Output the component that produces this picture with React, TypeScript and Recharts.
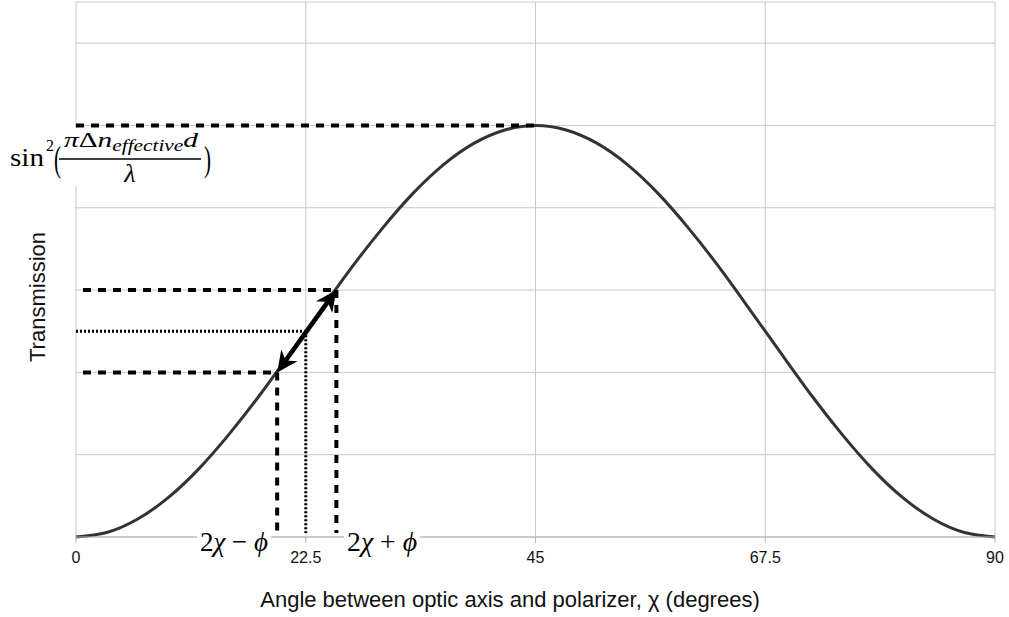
import React from 'react';
import { LineChart, Line, XAxis, YAxis, CartesianGrid, ReferenceLine } from 'recharts';

// curve, every 3 degrees
const angles = [0, 3, 6, 9, 12, 15, 18, 21, 24, 27, 30, 33, 36, 39, 42, 45, 48, 51, 54, 57, 60, 63, 66, 69, 72, 75, 78, 81, 84, 87, 90];
const transmission = [
  0, 0.011, 0.043, 0.095, 0.165, 0.25, 0.345, 0.448, 0.552, 0.655, 0.75, 0.835, 0.905, 0.957, 0.989, 1.0,
  0.989, 0.957, 0.905, 0.835, 0.75, 0.655, 0.552, 0.448, 0.345, 0.25, 0.165, 0.095, 0.043, 0.011, 0,
];

const xTicks = [0, 22.5, 45, 67.5, 90];
const yTicks = [0, 0.2, 0.4, 0.6, 0.8, 1.0, 1.2, 1.3];

// annotation points
const peak = { angle: 45, value: 1.0 };
const upper = { angle: 25.5, value: 0.6 };
const lower = { angle: 19.7, value: 0.4 };
const middle = { angle: 22.5, value: 0.5 };
const dropEnd = 0.01;

const data = angles.map((a, i) => ({ angle: a, t: transmission[i] }));

const SERIF = '"Liberation Serif", "Times New Roman", serif';
const SANS = '"Liberation Sans", Arial, sans-serif';

const DoubleArrow = (props: any) => {
  const { x1, y1, x2, y2 } = props;
  const dx = x2 - x1;
  const dy = y2 - y1;
  const len = Math.sqrt(dx * dx + dy * dy);
  const ux = dx / len;
  const uy = dy / len;
  const hl = 21;
  const hw = 10;
  const head = (tx: number, ty: number, dirx: number, diry: number) => {
    const bx = tx - dirx * hl;
    const by = ty - diry * hl;
    return `${tx},${ty} ${bx - diry * hw},${by + dirx * hw} ${tx - dirx * hl * 0.7},${ty - diry * hl * 0.7} ${bx + diry * hw},${by - dirx * hw}`;
  };
  return (
    <g>
      <line x1={x1 + ux * 10} y1={y1 + uy * 10} x2={x2 - ux * 10} y2={y2 - uy * 10} stroke="#000" strokeWidth={4.5} />
      <polygon points={head(x2, y2, ux, uy)} fill="#000" />
      <polygon points={head(x1, y1, -ux, -uy)} fill="#000" />
    </g>
  );
};

const AngleTick = (props: any) => {
  const { x, y, payload } = props;
  return (
    <text x={x} y={y} dy={18} textAnchor="middle" fontSize={16} fontFamily={SANS} fill="#111">
      {payload.value}
    </text>
  );
};

const dashed = { stroke: '#000', strokeWidth: 4, strokeDasharray: '8 7' };
const dotted = { stroke: '#000', strokeWidth: 3, strokeDasharray: '2 2' };

export default function App() {
  return (
    <div style={{ position: 'absolute', left: 0, top: 0, width: 1009, height: 617, background: '#fff' }}>
      <LineChart width={1009} height={617} data={data} margin={{ top: 2, right: 14, bottom: 50, left: 76 }}>
        <CartesianGrid stroke="#c8c8c8" strokeWidth={1} />
        <XAxis
          type="number"
          dataKey="angle"
          domain={[0, 90]}
          ticks={xTicks}
          height={30}
          tickMargin={2}
          stroke="#b5b5b5"
          tick={AngleTick}
        />
        <YAxis type="number" domain={[0, 1.3]} ticks={yTicks} hide />
        <Line
          type="natural"
          dataKey="t"
          stroke="#333"
          strokeWidth={3}
          dot={false}
          isAnimationActive={false}
        />
        <ReferenceLine segment={[{ x: 0, y: peak.value }, { x: peak.angle, y: peak.value }]} {...dashed} />
        <ReferenceLine segment={[{ x: 0, y: upper.value }, { x: upper.angle, y: upper.value }]} {...dashed} strokeDashoffset={8} />
        <ReferenceLine segment={[{ x: 0, y: lower.value }, { x: lower.angle, y: lower.value }]} {...dashed} strokeDashoffset={8} />
        <ReferenceLine segment={[{ x: 0, y: middle.value }, { x: middle.angle, y: middle.value }]} {...dotted} />
        <ReferenceLine segment={[{ x: upper.angle, y: upper.value }, { x: upper.angle, y: dropEnd }]} {...dashed} />
        <ReferenceLine segment={[{ x: lower.angle, y: lower.value }, { x: lower.angle, y: dropEnd }]} {...dashed} />
        <ReferenceLine segment={[{ x: middle.angle, y: middle.value }, { x: middle.angle, y: dropEnd }]} {...dotted} />
        <ReferenceLine
          segment={[{ x: lower.angle, y: lower.value }, { x: upper.angle, y: upper.value }]}
          shape={DoubleArrow}
        />
      </LineChart>

      <svg width={1009} height={617} style={{ position: 'absolute', left: 0, top: 0, pointerEvents: 'none' }}>
        {/* y axis title */}
        <text transform="translate(45,297) rotate(-90)" textAnchor="middle" fontSize={22} fontFamily={SANS} fill="#111">
          Transmission
        </text>
        {/* x axis title */}
        <text x={510} y={607} textAnchor="middle" fontSize={22} fontFamily={SANS} fill="#111">
          Angle between optic axis and polarizer, χ (degrees)
        </text>

        {/* peak formula */}
        <rect x={6} y={128} width={208} height={58} fill="#fff" />
        <text x={10} y={166} fontSize={26} fontFamily={SERIF} textLength={34} lengthAdjust="spacingAndGlyphs">sin</text>
        <text x={46} y={151} fontSize={16} fontFamily={SERIF}>2</text>
        <text x={54} y={171} fontSize={36} fontFamily={SERIF} textLength={7} lengthAdjust="spacingAndGlyphs">(</text>
        <text x={64} y={147} fontSize={22} fontFamily={SERIF} fontStyle="italic" textLength={134} lengthAdjust="spacingAndGlyphs">
          π<tspan fontStyle="normal">Δ</tspan>n<tspan fontSize={16} dy={4}>effective</tspan><tspan fontSize={22} dy={-4}>d</tspan>
        </text>
        <line x1={59} y1={159} x2={201} y2={159} stroke="#000" strokeWidth={1.3} />
        <text x={130} y={182} fontSize={26} fontFamily={SERIF} fontStyle="italic" textAnchor="middle">λ</text>
        <text x={204} y={171} fontSize={36} fontFamily={SERIF} textLength={7} lengthAdjust="spacingAndGlyphs">)</text>

        {/* edge labels */}
        <rect x={197} y={527} width={74} height={30} fill="#fff" />
        <text x={200} y={551} fontSize={28} fontFamily={SERIF} textLength={68} lengthAdjust="spacingAndGlyphs">
          2<tspan fontStyle="italic">χ</tspan> − <tspan fontStyle="italic">ϕ</tspan>
        </text>
        <rect x={344} y={527} width={76} height={30} fill="#fff" />
        <text x={347} y={551} fontSize={28} fontFamily={SERIF} textLength={70} lengthAdjust="spacingAndGlyphs">
          2<tspan fontStyle="italic">χ</tspan> + <tspan fontStyle="italic">ϕ</tspan>
        </text>
      </svg>
    </div>
  );
}
